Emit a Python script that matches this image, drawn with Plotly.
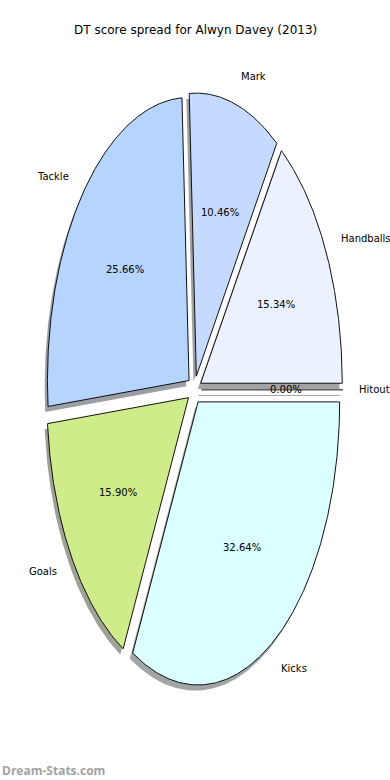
import numpy as np
import plotly.graph_objects as go

# ---- data ----
categories = ["Handballs", "Mark", "Tackle", "Goals", "Kicks", "Hitouts"]
values = [15.34, 10.46, 25.66, 15.90, 32.64, 0.00]
colors = ["#ebf1ff", "#c6daff", "#b5d5ff", "#d0eb8a", "#dbffff", "#e0e0ff"]
title_text = "DT score spread for Alwyn Davey (2013)"
watermark = "Dream-Stats.com"

# ---- style constants ----
EXPLODE = 0.05
LABEL_DIST = 1.1
PCT_DIST = 0.6
SHADOW_DX, SHADOW_DY = -0.02, -0.02
FONT = "DejaVu Sans"


def hex_to_rgb(h):
    h = h.lstrip("#")
    return tuple(int(h[i:i + 2], 16) for i in (0, 2, 4))


total = float(sum(values))
fig = go.Figure()

wedges = []
t1 = 0.0
for cat, v, col in zip(categories, values, colors):
    t2 = t1 + 360.0 * v / total
    mid = np.deg2rad((t1 + t2) / 2)
    cx, cy = EXPLODE * np.cos(mid), EXPLODE * np.sin(mid)
    ang = np.deg2rad(np.linspace(t1, t2, 240))
    xs = np.concatenate([[cx], cx + np.cos(ang), [cx]])
    ys = np.concatenate([[cy], cy + np.sin(ang), [cy]])
    wedges.append((cat, v, col, xs, ys, mid, cx, cy))
    t1 = t2

# shadows first (behind all wedges)
for cat, v, col, xs, ys, mid, cx, cy in wedges:
    r, g, b = hex_to_rgb(col)
    sc = f"rgba({int(0.3 * r)},{int(0.3 * g)},{int(0.3 * b)},0.5)"
    fig.add_trace(go.Scatter(
        x=xs + SHADOW_DX, y=ys + SHADOW_DY, mode="lines", fill="toself",
        fillcolor=sc,
        line=dict(color="rgba(150,150,150,0.6)" if v == 0 else "rgba(0,0,0,0)",
                  width=1 if v == 0 else 0),
        hoverinfo="skip", showlegend=False))

# wedges
for cat, v, col, xs, ys, mid, cx, cy in wedges:
    fig.add_trace(go.Scatter(
        x=xs, y=ys, mode="lines", fill="toself", fillcolor=col,
        line=dict(color="#111111" if v > 0 else "#555555", width=1),
        name=cat, hoverinfo="name", showlegend=False))

annotations = []
for cat, v, col, xs, ys, mid, cx, cy in wedges:
    lx = cx + LABEL_DIST * np.cos(mid)
    ly = cy + LABEL_DIST * np.sin(mid)
    annotations.append(dict(
        x=lx, y=ly, xref="x", yref="y", text=cat, showarrow=False,
        xanchor="left" if lx > 0 else "right", yanchor="middle",
        font=dict(family=FONT, size=10, color="black")))
    px = cx + PCT_DIST * np.cos(mid)
    py = cy + PCT_DIST * np.sin(mid)
    annotations.append(dict(
        x=px, y=py, xref="x", yref="y", text=f"{100 * v / total:.2f}%",
        showarrow=False, xanchor="center", yanchor="middle",
        font=dict(family=FONT, size=10, color="black")))

annotations.append(dict(
    x=0.5, y=1 - 30 / 780, xref="paper", yref="paper", text=title_text,
    showarrow=False, xanchor="center", yanchor="middle",
    font=dict(family=FONT, size=12, color="black")))
annotations.append(dict(
    x=0.0, y=1 - 770 / 780, xref="paper", yref="paper", text=f"<b>{watermark}</b>",
    showarrow=False, xanchor="left", yanchor="middle",
    font=dict(family="Open Sans", size=12, color="#a2a2a2")))

fig.update_layout(
    width=390, height=780,
    margin=dict(l=0, r=0, t=0, b=0),
    paper_bgcolor="white", plot_bgcolor="white",
    xaxis=dict(visible=False, range=[-1.3729, 1.3814]),
    yaxis=dict(visible=False, range=[-1.3783, 1.3769]),
    annotations=annotations,
)

fig.write_html(
    "out.html",
    config={"displayModeBar": False},
    post_script="document.body.style.margin='0';document.body.style.overflow='hidden';",
)
